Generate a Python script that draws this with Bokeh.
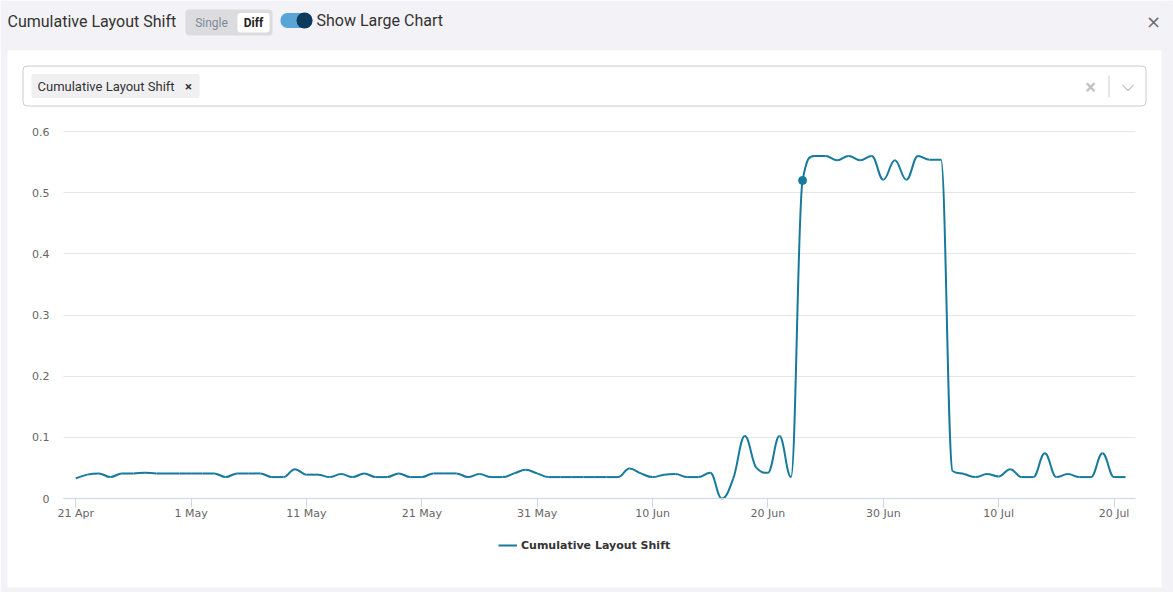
import numpy as np
from bokeh.plotting import figure
from bokeh.models import (Range1d, FixedTicker, BoxAnnotation, Label, PolyAnnotation,
                          Legend, LegendItem, ColumnDataSource)
from bokeh.embed import file_html
from bokeh.resources import INLINE

# ---------------- data ----------------
series_name = "Cumulative Layout Shift"
day_index = list(range(92))          # daily points, 21 Apr .. 21 Jul
cls_values = [
    0.033, 0.039, 0.041, 0.035, 0.041, 0.041, 0.042, 0.041, 0.041, 0.041,
    0.041, 0.041, 0.041, 0.035, 0.041, 0.041, 0.041, 0.035, 0.035, 0.048,
    0.039, 0.039, 0.035, 0.040, 0.035, 0.041, 0.035, 0.035, 0.041, 0.035,
    0.035, 0.041, 0.041, 0.041, 0.035, 0.040, 0.035, 0.035, 0.041, 0.047,
    0.041, 0.035, 0.035, 0.035, 0.035, 0.035, 0.035, 0.035, 0.049, 0.041,
    0.035, 0.039, 0.040, 0.035, 0.035, 0.042, 0.000, 0.033, 0.102, 0.050,
    0.042, 0.102, 0.035, 0.520, 0.560, 0.560, 0.553, 0.560, 0.553, 0.560,
    0.521, 0.553, 0.521, 0.560, 0.554, 0.554, 0.045, 0.040, 0.035, 0.040,
    0.036, 0.048, 0.035, 0.035, 0.074, 0.035, 0.040, 0.035, 0.035, 0.074,
    0.035, 0.035,
]
highlight_day = 63
x_tick_days = [0, 10, 20, 30, 40, 50, 60, 70, 80, 90]
x_tick_labels = ["21 Apr", "1 May", "11 May", "21 May", "31 May",
                 "10 Jun", "20 Jun", "30 Jun", "10 Jul", "20 Jul"]
y_ticks = [0, 0.1, 0.2, 0.3, 0.4, 0.5, 0.6]
y_tick_labels = ["0", "0.1", "0.2", "0.3", "0.4", "0.5", "0.6"]

# ---------------- layout constants ----------------
W, H = 1173, 592
PL, PR, PT, PB = 63, 1135, 131, 498      # plot area in page pixels
X_LO, X_HI = -1.06, 91.86                # x extent of the plot area (days)
Y_LO, Y_HI = 0.0, 0.6
LINE_COLOR = "#17799b"
PAGE_BG = "#f3f2f6"

kx = (PR - PL) / (X_HI - X_LO)
ky = (PB - PT) / (Y_HI - Y_LO)
x_range = Range1d(X_LO - PL / kx, X_HI + (W - PR) / kx)
y_range = Range1d(Y_LO - (H - PB) / ky, Y_HI + PT / ky)


def spline_segments(xs, ys, smoothing=1.5):
    """Bezier control points for a Highcharts-like spline through the points."""
    n = len(xs)
    denom = smoothing + 1
    lcx, lcy = list(map(float, xs)), list(map(float, ys))
    rcx, rcy = list(map(float, xs)), list(map(float, ys))
    for i in range(1, n - 1):
        px, py = xs[i], ys[i]
        lx, ly = xs[i - 1], ys[i - 1]
        nx, ny = xs[i + 1], ys[i + 1]
        a = (smoothing * px + lx) / denom
        b = (smoothing * py + ly) / denom
        c = (smoothing * px + nx) / denom
        d = (smoothing * py + ny) / denom
        if c != a:
            corr = ((d - b) * (c - px)) / (c - a) + py - d
            b += corr
            d += corr
        if b > ly and b > py:
            b = max(ly, py); d = 2 * py - b
        elif b < ly and b < py:
            b = min(ly, py); d = 2 * py - b
        if d > ny and d > py:
            d = max(ny, py); b = 2 * py - d
        elif d < ny and d < py:
            d = min(ny, py); b = 2 * py - d
        lcx[i], lcy[i], rcx[i], rcy[i] = a, b, c, d
    return dict(
        x0=xs[:-1], y0=ys[:-1], x1=xs[1:], y1=ys[1:],
        cx0=rcx[:-1], cy0=rcy[:-1], cx1=lcx[1:], cy1=lcy[1:],
    )


p = figure(width=W, height=H, output_backend="svg", toolbar_location=None,
           x_range=x_range, y_range=y_range, min_border=0)
p.outline_line_color = None
p.background_fill_color = "white"
p.border_fill_color = "white"

# axes drawn at fixed locations inside the page-sized frame
p.xaxis.fixed_location = Y_LO
p.xaxis.bounds = (X_LO, X_HI)
p.xaxis.ticker = FixedTicker(ticks=x_tick_days)
p.xaxis.major_label_overrides = dict(zip(x_tick_days, x_tick_labels))
p.xaxis.axis_line_color = "#ccd6eb"
p.xaxis.major_tick_line_color = "#ccd6eb"
p.xaxis.major_tick_out = 9
p.xaxis.major_tick_in = 0
p.xaxis.minor_tick_line_color = None
p.xaxis.major_label_standoff = -1
p.xaxis.major_label_text_font = "DejaVu Sans"
p.xaxis.major_label_text_font_size = "11px"
p.xaxis.major_label_text_color = "#666666"

p.yaxis.fixed_location = X_LO
p.yaxis.bounds = (Y_LO, Y_HI)
p.yaxis.ticker = FixedTicker(ticks=y_ticks)
p.yaxis.major_label_overrides = dict(zip(y_ticks, y_tick_labels))
p.yaxis.axis_line_color = None
p.yaxis.major_tick_line_color = None
p.yaxis.minor_tick_line_color = None
p.yaxis.major_tick_out = 0
p.yaxis.major_label_standoff = 14
p.yaxis.major_label_text_font = "DejaVu Sans"
p.yaxis.major_label_text_font_size = "11px"
p.yaxis.major_label_text_color = "#666666"

p.xgrid.visible = False
p.ygrid.grid_line_color = "#e6e6e6"
p.ygrid.bounds = (Y_LO, Y_HI)
p.ygrid.cross_bounds = (X_LO, X_HI)

# series
seg = ColumnDataSource(spline_segments(day_index, cls_values))
curve = p.bezier(x0="x0", y0="y0", x1="x1", y1="y1", cx0="cx0", cy0="cy0",
                 cx1="cx1", cy1="cy1", source=seg, line_color=LINE_COLOR, line_width=2)
p.scatter(x=[day_index[highlight_day]], y=[cls_values[highlight_day]], size=8,
          fill_color=LINE_COLOR, line_color=LINE_COLOR)

legend = Legend(items=[LegendItem(label=series_name, renderers=[curve])],
                location=(498, H - 552), orientation="horizontal",
                glyph_width=19, glyph_height=14, label_height=14, label_standoff=4,
                padding=0, margin=0, spacing=0, border_line_color=None,
                background_fill_alpha=0, label_text_font="DejaVu Sans",
                label_text_font_style="bold", label_text_font_size="11px",
                label_text_color="#333333")
p.add_layout(legend)


# ---------------- page chrome (screen pixels; frame == page) ----------------
def sx(X):
    return X


def sy(Y):
    return H - Y


def box(x0, y0, x1, y1, fill, line=None, radius=0):
    b = BoxAnnotation(left=sx(x0), right=sx(x1), top=sy(y0), bottom=sy(y1),
                      left_units="screen", right_units="screen",
                      top_units="screen", bottom_units="screen",
                      fill_color=fill, fill_alpha=1,
                      line_color=line, line_alpha=1 if line else 0, line_width=1,
                      border_radius=int(radius))
    p.add_layout(b)


def text(X, Y, s, size, color, font="Roboto", style="normal", align="left"):
    p.add_layout(Label(x=sx(X), y=sy(Y), x_units="screen", y_units="screen", text=s,
                       text_font=font, text_font_size=size, text_color=color,
                       text_font_style=style, text_align=align, text_baseline="middle"))


# gray page around the white card
box(0, 0, W, 50, PAGE_BG)
box(0, 0, 7, H, PAGE_BG)
box(1161, 0, W, H, PAGE_BG)
box(0, 587, W, H, PAGE_BG)

# header
text(7, 21, "Cumulative Layout Shift", "16px", "#333333")
box(185, 9, 272, 35, "#dcdcdf", radius=4)
box(237, 12.5, 269, 32, "white", radius=3)
text(211, 22.5, "Single", "12px", "#7d8a96", align="center")
text(253, 22.5, "Diff", "12px", "#222222", style="bold", align="center")
box(280, 12.5, 312, 27.5, "#5aa5d8", radius=7)
box(296, 12, 312, 28, "#0e3a5c", radius=8)
text(316, 20, "Show Large Chart", "16px", "#333333")
text(1153, 21, "×", "18px", "#6b6e75", font="DejaVu Sans", align="center")

# select box with tag
box(22.5, 65.5, 1145.5, 105.5, "white", line="#cccccc", radius=4)
box(31, 73.5, 199, 97.5, "#f0f0f2", radius=2)
text(37, 86, series_name, "13px", "#333333")
text(188, 85.5, "×", "13px", "#333333", style="bold", align="center")
text(1090, 86.5, "×", "20px", "#c2c2c2", style="bold", align="center")
box(1108, 75, 1109, 97, "#cccccc")
chev_x = [1122, 1127.5, 1133, 1133, 1127.5, 1122]
chev_y = [83.5, 89, 83.5, 85.5, 91, 85.5]
p.add_layout(PolyAnnotation(xs=[sx(v) for v in chev_x], ys=[sy(v) for v in chev_y],
                            xs_units="screen", ys_units="screen",
                            fill_color="#c8c8c8", fill_alpha=1, line_alpha=0))

open("out.html", "w").write(file_html(p, INLINE))
